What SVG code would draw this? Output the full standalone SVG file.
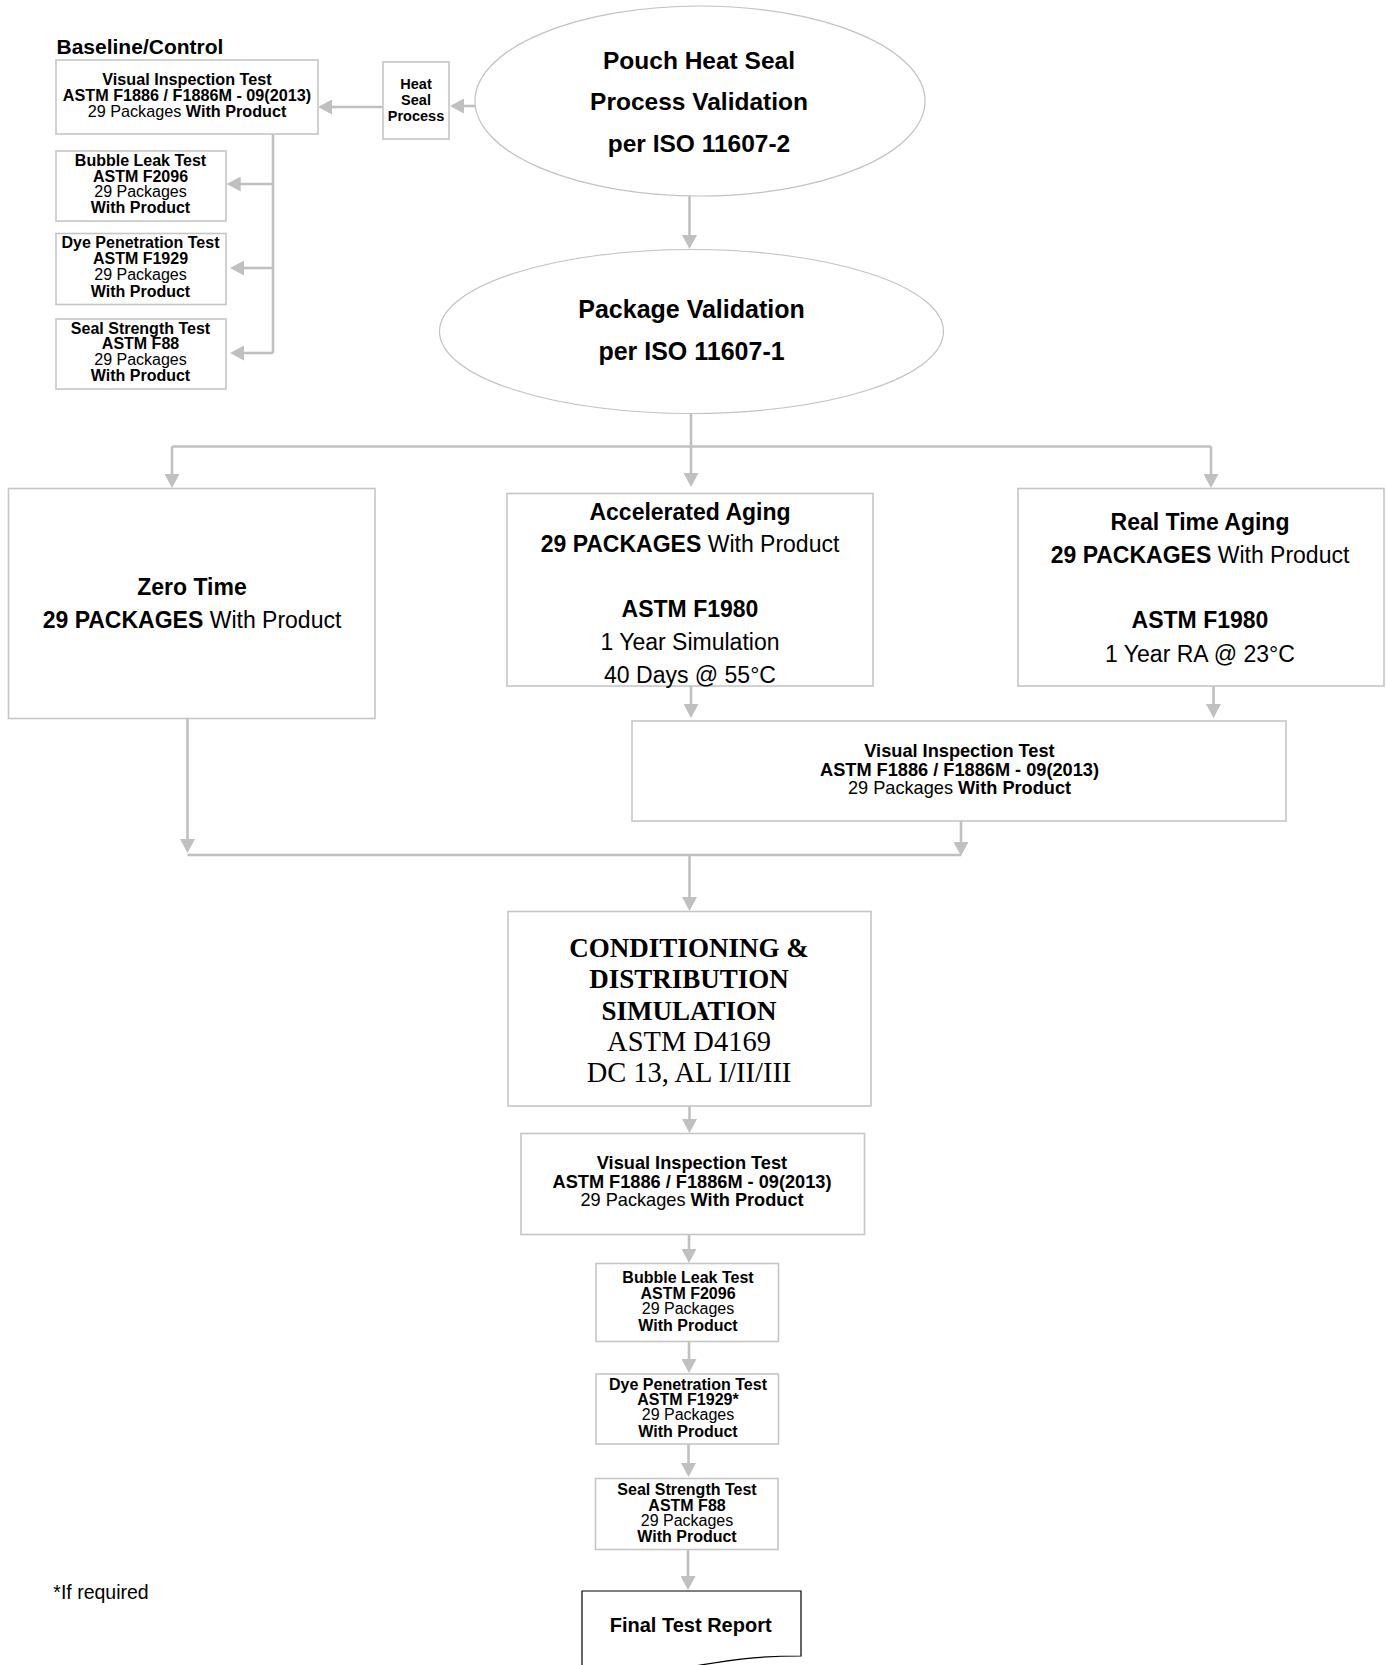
<svg xmlns="http://www.w3.org/2000/svg" width="1386" height="1665" viewBox="0 0 1386 1665">
<style>
.bx{fill:#fff;stroke:#c6c6c6;stroke-width:1.6}
.el{fill:#fff;stroke:#c2c2c2;stroke-width:1.2}
.ln{fill:none;stroke:#c0c0c0;stroke-width:2.6}
.ar{fill:none;stroke:#c0c0c0;stroke-width:2.6;marker-end:url(#ah)}
text{font-family:"Liberation Sans",Arial,sans-serif;fill:#000;text-anchor:middle}
.b{font-weight:bold}
.s16{font-size:16px}
.s162{font-size:16.2px}
.s145{font-size:14.5px}
.s18{font-size:18.2px}
.s23{font-size:23px}
.s25{font-size:25px}
.s245{font-size:24.5px}
.serif{font-family:"Liberation Serif","Times New Roman",serif}
</style>
<defs>
<marker id="ah" viewBox="0 0 14 15" refX="2" refY="7.5" markerWidth="14" markerHeight="15" markerUnits="userSpaceOnUse" orient="auto">
<path d="M0,0 L14,7.5 L0,15 Z" fill="#c0c0c0"/>
</marker>
</defs>
<rect width="1386" height="1665" fill="#fff"/>

<g id="connectors">
<path class="ar" d="M475,106 H462"/>
<path class="ar" d="M383,107 H330"/>
<path class="ar" d="M689.5,196 V237"/>
<path class="ln" d="M273,134 V353"/>
<path class="ar" d="M273,184 H238.7"/>
<path class="ar" d="M273,268 H242"/>
<path class="ar" d="M273,353 H242"/>
<path class="ar" d="M691,413 V475"/>
<path class="ln" d="M172,446.5 H1211"/>
<path class="ar" d="M172,446.5 V476"/>
<path class="ar" d="M1211,446.5 V476"/>
<path class="ar" d="M691,686 V706"/>
<path class="ar" d="M1213.5,686 V706"/>
<path class="ar" d="M187.5,718 V841"/>
<path class="ln" d="M187.5,855 H961"/>
<path class="ar" d="M961,821 V844"/>
<path class="ar" d="M689.5,855 V899"/>
<path class="ar" d="M689.5,1106 V1121"/>
<path class="ar" d="M689,1234 V1251"/>
<path class="ar" d="M689,1342 V1361"/>
<path class="ar" d="M688.5,1444 V1465"/>
<path class="ar" d="M688,1549 V1578"/>
</g>

<g id="baseline-label">
<text x="56.5" y="54" class="b" style="font-size:21px;text-anchor:start">Baseline/Control</text>
</g>

<g id="pouch-validation">
<ellipse class="el" cx="700" cy="101" rx="225" ry="95"/>
<text class="b s245" x="699" y="69">Pouch Heat Seal</text>
<text class="b s245" x="699" y="110">Process Validation</text>
<text class="b s245" x="699" y="151.7">per ISO 11607-2</text>
</g>

<g id="heat-seal">
<rect class="bx" x="383" y="62" width="66" height="77"/>
<text class="b s145" x="416" y="89">Heat</text>
<text class="b s145" x="416" y="105">Seal</text>
<text class="b s145" x="416" y="120.7">Process</text>
</g>

<g id="visual-baseline">
<rect class="bx" x="56" y="60" width="262" height="74"/>
<text class="b s162" x="187" y="85">Visual Inspection Test</text>
<text class="b s162" x="187" y="101">ASTM F1886 / F1886M - 09(2013)</text>
<text class="s162" x="187" y="116.7">29 Packages <tspan class="b">With Product</tspan></text>
</g>

<g id="bubble-baseline">
<rect class="bx" x="56" y="151" width="170" height="70"/>
<text class="b s16" x="140.5" y="166">Bubble Leak Test</text>
<text class="b s16" x="140.5" y="181.7">ASTM F2096</text>
<text class="s16" x="140.5" y="197.3">29 Packages</text>
<text class="b s16" x="140.5" y="213.3">With Product</text>
</g>

<g id="dye-baseline">
<rect class="bx" x="56" y="233.5" width="170" height="71"/>
<text class="b s16" x="140.5" y="248.3">Dye Penetration Test</text>
<text class="b s16" x="140.5" y="264.3">ASTM F1929</text>
<text class="s16" x="140.5" y="280">29 Packages</text>
<text class="b s16" x="140.5" y="296.7">With Product</text>
</g>

<g id="seal-baseline">
<rect class="bx" x="56" y="319" width="170" height="70"/>
<text class="b s16" x="140.5" y="334">Seal Strength Test</text>
<text class="b s16" x="140.5" y="349.3">ASTM F88</text>
<text class="s16" x="140.5" y="365">29 Packages</text>
<text class="b s16" x="140.5" y="381">With Product</text>
</g>

<g id="package-validation">
<ellipse class="el" cx="691.5" cy="331.5" rx="252" ry="82"/>
<text class="b s25" x="691.5" y="318.3">Package Validation</text>
<text class="b s25" x="691.5" y="360">per ISO 11607-1</text>
</g>

<g id="zero-time">
<rect class="bx" x="8.5" y="488.5" width="366.5" height="230"/>
<text class="b s23" x="192" y="595">Zero Time</text>
<text class="s23" x="192" y="628"><tspan class="b">29 PACKAGES</tspan> With Product</text>
</g>

<g id="accelerated-aging">
<rect class="bx" x="507" y="493.5" width="366" height="192.5"/>
<text class="b s23" x="690" y="520">Accelerated Aging</text>
<text class="s23" x="690" y="551.7"><tspan class="b">29 PACKAGES</tspan> With Product</text>
<text class="b s23" x="690" y="616.7">ASTM F1980</text>
<text class="s23" x="690" y="650">1 Year Simulation</text>
<text class="s23" x="690" y="683.3">40 Days @ 55°C</text>
</g>

<g id="real-time-aging">
<rect class="bx" x="1018" y="488.5" width="366" height="197.5"/>
<text class="b s23" x="1200" y="530">Real Time Aging</text>
<text class="s23" x="1200" y="563.3"><tspan class="b">29 PACKAGES</tspan> With Product</text>
<text class="b s23" x="1200" y="628.3">ASTM F1980</text>
<text class="s23" x="1200" y="661.7">1 Year RA @ 23°C</text>
</g>

<g id="visual-aged">
<rect class="bx" x="632" y="721" width="654" height="100"/>
<text class="b s18" x="959.5" y="757">Visual Inspection Test</text>
<text class="b s18" x="959.5" y="775.5">ASTM F1886 / F1886M - 09(2013)</text>
<text class="s18" x="959.5" y="794">29 Packages <tspan class="b">With Product</tspan></text>
</g>

<g id="conditioning">
<rect class="bx" x="508" y="911.5" width="363" height="194.5"/>
<text class="serif b" style="font-size:27px" x="689" y="957.3">CONDITIONING &amp;</text>
<text class="serif b" style="font-size:27px" x="689" y="988.3">DISTRIBUTION</text>
<text class="serif b" style="font-size:27px" x="689" y="1020">SIMULATION</text>
<text class="serif" style="font-size:28.5px" x="689" y="1051">ASTM D4169</text>
<text class="serif" style="font-size:28.5px" x="689" y="1081.7">DC 13, AL I/II/III</text>
</g>

<g id="visual-final">
<rect class="bx" x="521" y="1133.5" width="343.5" height="101"/>
<text class="b s18" x="692" y="1169">Visual Inspection Test</text>
<text class="b s18" x="692" y="1187.5">ASTM F1886 / F1886M - 09(2013)</text>
<text class="s18" x="692" y="1206">29 Packages <tspan class="b">With Product</tspan></text>
</g>

<g id="bubble-final">
<rect class="bx" x="596" y="1263.5" width="182.5" height="78"/>
<text class="b s16" x="688" y="1283.3">Bubble Leak Test</text>
<text class="b s16" x="688" y="1299">ASTM F2096</text>
<text class="s16" x="688" y="1314.3">29 Packages</text>
<text class="b s16" x="688" y="1330.7">With Product</text>
</g>

<g id="dye-final">
<rect class="bx" x="596" y="1374" width="182.5" height="70"/>
<text class="b s16" x="688" y="1390">Dye Penetration Test</text>
<text class="b s16" x="688" y="1405">ASTM F1929*</text>
<text class="s16" x="688" y="1420">29 Packages</text>
<text class="b s16" x="688" y="1436.7">With Product</text>
</g>

<g id="seal-final">
<rect class="bx" x="595.5" y="1478.5" width="182.5" height="71"/>
<text class="b s16" x="687" y="1495">Seal Strength Test</text>
<text class="b s16" x="687" y="1511">ASTM F88</text>
<text class="s16" x="687" y="1526">29 Packages</text>
<text class="b s16" x="687" y="1541.7">With Product</text>
</g>

<g id="final-report">
<path d="M582,1591 H801 V1656 C691.5,1656 691.5,1680.7 582,1666.6 Z" fill="#fff" stroke="#000" stroke-width="1.2"/>
<text class="b" style="font-size:20px" x="690.7" y="1631.7">Final Test Report</text>
</g>

<g id="footnote">
<text x="53.3" y="1599" style="font-size:19.5px;text-anchor:start">*If required</text>
</g>
</svg>
